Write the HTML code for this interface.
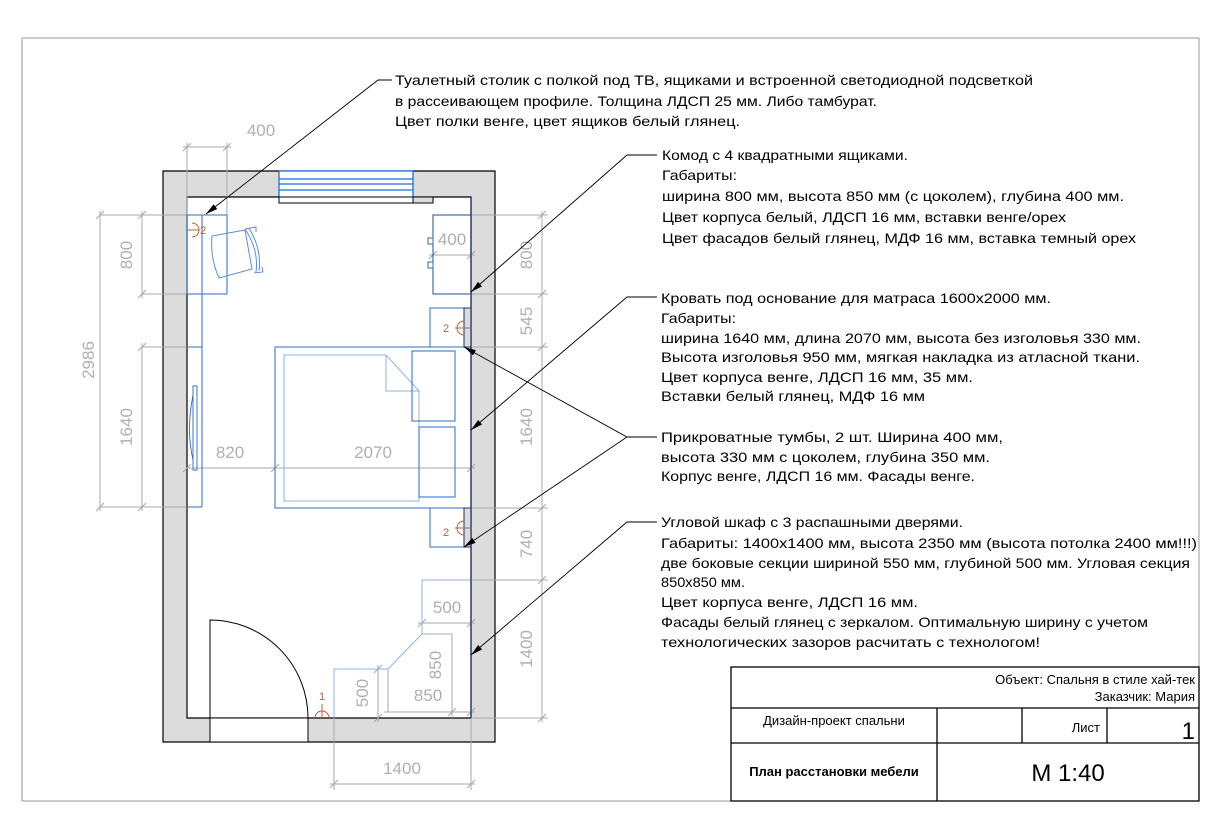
<!DOCTYPE html>
<html><head><meta charset="utf-8"><style>
html,body{margin:0;padding:0;background:#fff;}
svg{display:block;}
.t{font-family:"Liberation Sans","DejaVu Sans",sans-serif;font-size:14px;fill:#000;}
.d{font-family:"Liberation Sans",sans-serif;font-size:17px;fill:#b0b0b0;}
.r{font-family:"Liberation Sans",sans-serif;font-size:11px;fill:#b5603c;}
.tb{font-family:"Liberation Sans",sans-serif;fill:#000;}
</style></head><body>
<svg width="1220" height="834" viewBox="0 0 1220 834" xmlns="http://www.w3.org/2000/svg">
<defs>
<marker id="ar" markerWidth="12" markerHeight="6" refX="12" refY="3" orient="auto" markerUnits="userSpaceOnUse">
<path d="M0,0 L12,3 L0,6 z" fill="#000"/></marker>
</defs>
<rect x="22" y="38" width="1177" height="763" fill="none" stroke="#999" stroke-width="1"/>

<!-- walls -->
<path d="M163,171 H495 V742 H163 Z M187,197 V718 H471 V197 Z" fill="#dcdcdc" fill-rule="evenodd" stroke="#000" stroke-width="1.2"/>
<!-- window -->
<rect x="279" y="171" width="134" height="26" fill="#fff"/>
<g stroke="#1a6fe0" stroke-width="1.3"><line x1="279" y1="171" x2="413" y2="171"/><line x1="279" y1="179" x2="413" y2="179"/><line x1="279" y1="184" x2="413" y2="184"/><line x1="279" y1="190" x2="413" y2="190"/><line x1="279" y1="171" x2="279" y2="197"/><line x1="413" y1="171" x2="413" y2="197"/></g>
<rect x="279" y="197" width="134" height="6" fill="#fff" stroke="#000"/>
<rect x="413" y="197" width="20" height="6" fill="#dcdcdc" stroke="#000"/>
<!-- door -->
<rect x="210" y="718" width="98" height="24" fill="#fff" stroke="#000"/>
<path d="M210,718 V620 A98,98 0 0 1 308,718" fill="none" stroke="#000" stroke-width="1"/>

<!-- dimension lines -->
<g stroke="#a8a8a8" stroke-width="1" fill="none">
<line x1="100" y1="215" x2="202" y2="215"/><line x1="142" y1="294" x2="187" y2="294"/><line x1="142" y1="347" x2="187" y2="347"/><line x1="100" y1="507" x2="202" y2="507"/>
<line x1="100" y1="211" x2="100" y2="511"/><line x1="142" y1="211" x2="142" y2="298"/><line x1="142" y1="343" x2="142" y2="511"/>
<line x1="187" y1="143" x2="187" y2="215"/><line x1="227" y1="143" x2="227" y2="215"/><line x1="183" y1="147" x2="231" y2="147"/>
<line x1="187" y1="468" x2="475" y2="468"/>
<line x1="471" y1="215" x2="548" y2="215"/><line x1="471" y1="294" x2="548" y2="294"/><line x1="471" y1="347" x2="548" y2="347"/><line x1="471" y1="508" x2="548" y2="508"/><line x1="471" y1="580" x2="548" y2="580"/><line x1="471" y1="718" x2="548" y2="718"/>
<line x1="542" y1="211" x2="542" y2="722"/>
<line x1="429" y1="255" x2="475" y2="255"/>
<line x1="418" y1="623" x2="475" y2="623"/>
<line x1="378" y1="665" x2="378" y2="722"/>
<line x1="384" y1="712" x2="475" y2="712"/>
<line x1="334" y1="718" x2="334" y2="790"/><line x1="471" y1="718" x2="471" y2="790"/><line x1="330" y1="784" x2="475" y2="784"/>
<line x1="422" y1="634" x2="452" y2="634"/><line x1="452" y1="634" x2="452" y2="718"/><line x1="388" y1="669" x2="388" y2="712"/>
<g stroke-width="1"><path d="M96,219 L104,211 M96,511 L104,503 M138,219 L146,211 M138,298 L146,290 M138,351 L146,343 M138,511 L146,503 M183,151 L191,143 M223,151 L231,143 M183,472 L191,464 M271,472 L279,464 M467,472 L475,464 M538,219 L546,211 M538,298 L546,290 M538,351 L546,343 M538,512 L546,504 M538,584 L546,576 M538,722 L546,714 M330,788 L338,780 M467,788 L475,780 M429,259 L437,251 M467,259 L475,251 M418,627 L426,619 M467,627 L475,619 M374,673 L382,665 M374,722 L382,714 M448,716 L456,708 M467,716 L475,708"/></g>
</g>
<g class="d">
<text x="261" y="136" text-anchor="middle">400</text>
<text x="230" y="458" text-anchor="middle">820</text>
<text x="373" y="458" text-anchor="middle">2070</text>
<text x="452" y="245" text-anchor="middle">400</text>
<text x="447" y="613" text-anchor="middle">500</text>
<text x="428" y="701" text-anchor="middle">850</text>
<text x="402" y="774" text-anchor="middle">1400</text>
<text transform="translate(94,360) rotate(-90)" text-anchor="middle">2986</text>
<text transform="translate(132,255) rotate(-90)" text-anchor="middle">800</text>
<text transform="translate(132,427) rotate(-90)" text-anchor="middle">1640</text>
<text transform="translate(532,255) rotate(-90)" text-anchor="middle">800</text>
<text transform="translate(532,321) rotate(-90)" text-anchor="middle">545</text>
<text transform="translate(532,427) rotate(-90)" text-anchor="middle">1640</text>
<text transform="translate(532,544) rotate(-90)" text-anchor="middle">740</text>
<text transform="translate(532,649) rotate(-90)" text-anchor="middle">1400</text>
<text transform="translate(368,693) rotate(-90)" text-anchor="middle">500</text>
<text transform="translate(441,665) rotate(-90)" text-anchor="middle">850</text>
</g>

<!-- furniture -->
<g fill="none" stroke="#2a6cc0" stroke-width="1">
<rect x="187" y="215" width="40" height="79"/>
<line x1="202" y1="215" x2="202" y2="507"/>
<line x1="187" y1="347" x2="202" y2="347"/>
<line x1="187" y1="507" x2="202" y2="507"/>
<path d="M193,386 L197,386 L197,470 L193,470 Z M193,395 Q186,430 193,460" stroke-width="0.9"/>
<path d="M212,236 L245,230 L252,269 L219,278 Q210,258 212,236 Z" stroke="#5d8fd3"/>
<path d="M245,229 Q259,250 256,272 M249,228 Q262,250 259,271 M245,229 L256,227 L256,232 M254,273 L263,272 L262,267" stroke="#5d8fd3"/>
<rect x="433" y="215" width="38" height="79" stroke="#1d4f9a"/>
<rect x="428" y="238" width="5" height="6"/><rect x="428" y="262" width="5" height="6"/>
<rect x="430" y="308" width="41" height="39"/>
<rect x="275" y="347" width="196" height="161"/>
<path d="M284,355 H386 L419,391 V501 H284 Z" stroke="#8fb3e3"/>
<path d="M386,355 V391 H419" stroke="#8fb3e3"/>
<rect x="412" y="351" width="43" height="70"/>
<rect x="419" y="427" width="36" height="70"/>
<rect x="430" y="508" width="34" height="39"/>
<path d="M471,580 H422 V634 L388,669 H334 V718" stroke="#8fb3e3"/>
</g>
<rect x="464" y="308" width="7" height="39" fill="#dcdcdc" stroke="#1d2f60"/>
<rect x="464" y="508" width="7" height="39" fill="#dcdcdc" stroke="#1d2f60"/>
<line x1="471" y1="197" x2="471" y2="718" stroke="#1d2f60" stroke-width="1.2"/>
<g fill="none" stroke="#b5603c" stroke-width="1">
<path d="M192,223 A7,7 0 0 1 192,237 M187,230 H199"/>
<path d="M464,321 A7,7 0 0 0 464,335 M455,328 H470"/>
<path d="M464,521 A7,7 0 0 0 464,535 M455,528 H470"/>
<path d="M315,718 A7,7 0 0 1 329,718 M322,704 V718"/>
</g>
<g class="r"><text x="200" y="234">2</text><text x="443" y="332">2</text><text x="443" y="536">2</text><text x="319" y="700">1</text></g>

<!-- leaders -->
<g stroke="#000" stroke-width="0.9" fill="none">
<polyline points="392,80 378,80 206,214" marker-end="url(#ar)"/>
<polyline points="657,155 627,155 471,292" marker-end="url(#ar)"/>
<polyline points="657,297 627,297 471,430" marker-end="url(#ar)"/>
<polyline points="657,437 627,437 464,347" marker-end="url(#ar)"/>
<polyline points="627,437 464,547" marker-end="url(#ar)"/>
<polyline points="657,522 627,522 471,655" marker-end="url(#ar)"/>
</g>

<g class="t">
<text x="395" y="85" textLength="638" lengthAdjust="spacingAndGlyphs">Туалетный столик с полкой под ТВ, ящиками и встроенной светодиодной подсветкой</text>
<text x="395" y="106" textLength="482" lengthAdjust="spacingAndGlyphs">в рассеивающем профиле. Толщина ЛДСП 25 мм. Либо тамбурат.</text>
<text x="395" y="126" textLength="345" lengthAdjust="spacingAndGlyphs">Цвет полки венге, цвет ящиков белый глянец.</text>

<text x="662" y="160" textLength="246" lengthAdjust="spacingAndGlyphs">Комод с 4 квадратными ящиками.</text>
<text x="662" y="180" textLength="75" lengthAdjust="spacingAndGlyphs">Габариты:</text>
<text x="662" y="201" textLength="462" lengthAdjust="spacingAndGlyphs">ширина 800 мм, высота 850 мм (с цоколем), глубина 400 мм.</text>
<text x="662" y="222" textLength="404" lengthAdjust="spacingAndGlyphs">Цвет корпуса белый, ЛДСП 16 мм, вставки венге/орех</text>
<text x="662" y="243" textLength="474" lengthAdjust="spacingAndGlyphs">Цвет фасадов белый глянец, МДФ 16 мм, вставка темный орех</text>

<text x="661" y="303" textLength="390" lengthAdjust="spacingAndGlyphs">Кровать под основание для матраса 1600х2000 мм.</text>
<text x="661" y="323" textLength="75" lengthAdjust="spacingAndGlyphs">Габариты:</text>
<text x="661" y="343" textLength="480" lengthAdjust="spacingAndGlyphs">ширина 1640 мм, длина 2070 мм, высота без изголовья 330 мм.</text>
<text x="661" y="362" textLength="479" lengthAdjust="spacingAndGlyphs">Высота изголовья 950 мм, мягкая накладка из атласной ткани.</text>
<text x="661" y="382" textLength="312" lengthAdjust="spacingAndGlyphs">Цвет корпуса венге, ЛДСП 16 мм, 35 мм.</text>
<text x="661" y="401" textLength="264" lengthAdjust="spacingAndGlyphs">Вставки белый глянец, МДФ 16 мм</text>

<text x="661" y="442" textLength="342" lengthAdjust="spacingAndGlyphs">Прикроватные тумбы, 2 шт. Ширина 400 мм,</text>
<text x="661" y="462" textLength="329" lengthAdjust="spacingAndGlyphs">высота 330 мм с цоколем, глубина 350 мм.</text>
<text x="661" y="481" textLength="314" lengthAdjust="spacingAndGlyphs">Корпус венге, ЛДСП 16 мм. Фасады венге.</text>

<text x="661" y="527" textLength="302" lengthAdjust="spacingAndGlyphs">Угловой шкаф с 3 распашными дверями.</text>
<text x="661" y="548" textLength="536" lengthAdjust="spacingAndGlyphs">Габариты: 1400х1400 мм, высота 2350 мм (высота потолка 2400 мм!!!)</text>
<text x="661" y="568" textLength="529" lengthAdjust="spacingAndGlyphs">две боковые секции шириной 550 мм, глубиной 500 мм. Угловая секция</text>
<text x="661" y="587" textLength="84" lengthAdjust="spacingAndGlyphs">850х850 мм.</text>
<text x="661" y="607" textLength="257" lengthAdjust="spacingAndGlyphs">Цвет корпуса венге, ЛДСП 16 мм.</text>
<text x="661" y="627" textLength="487" lengthAdjust="spacingAndGlyphs">Фасады белый глянец с зеркалом. Оптимальную ширину с учетом</text>
<text x="661" y="647" textLength="379" lengthAdjust="spacingAndGlyphs">технологических зазоров расчитать с технологом!</text>
</g>

<g stroke="#000" stroke-width="1.3" fill="none">
<rect x="731" y="667" width="468" height="134" fill="#fff"/>
<line x1="731" y1="708" x2="1199" y2="708"/>
<line x1="731" y1="743" x2="1199" y2="743"/>
<line x1="937" y1="708" x2="937" y2="801"/>
<line x1="1022" y1="708" x2="1022" y2="743"/>
<line x1="1107" y1="708" x2="1107" y2="743"/>
</g>
<g class="tb">
<text x="1195" y="684" font-size="13" text-anchor="end">Объект: Спальня в стиле хай-тек</text>
<text x="1195" y="701" font-size="13" text-anchor="end">Заказчик: Мария</text>
<text x="834" y="725" font-size="13" text-anchor="middle">Дизайн-проект спальни</text>
<text x="1100" y="732" font-size="13" text-anchor="end">Лист</text>
<text x="1195" y="739" font-size="24" text-anchor="end">1</text>
<text x="834" y="776" font-size="13" font-weight="bold" text-anchor="middle">План расстановки мебели</text>
<text x="1068" y="781" font-size="24" text-anchor="middle">М 1:40</text>
</g>
</svg>
</body></html>
